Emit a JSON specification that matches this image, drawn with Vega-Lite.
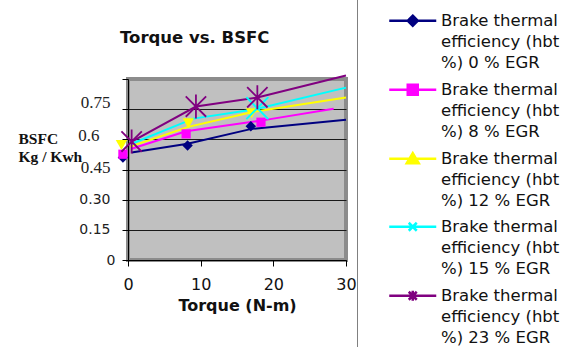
{
  "$schema": "https://vega.github.io/schema/vega-lite/v6.json",
  "autosize": {"type": "none"},
  "padding": {"left": 128, "top": 79, "right": 222, "bottom": 87},
  "width": 218,
  "height": 181,
  "background": "white",
  "title": {
    "text": "Torque vs. BSFC",
    "anchor": "start",
    "frame": "group",
    "dx": -8,
    "offset": -62,
    "baseline": "alphabetic",
    "font": "DejaVu Sans",
    "fontSize": 16.5,
    "fontWeight": "bold",
    "color": "#111"
  },
  "config": {
    "view": {"fill": "#c0c0c0", "stroke": "#8c8c8c", "strokeWidth": 4}
  },
  "datasets": {
    "lines": [
      {"series": "0 % EGR", "t": 0.5, "v": 0.535},
      {"series": "0 % EGR", "t": 8.2, "v": 0.578},
      {"series": "0 % EGR", "t": 17, "v": 0.652},
      {"series": "0 % EGR", "t": 30, "v": 0.697},
      {"series": "8 % EGR", "t": 0.5, "v": 0.553},
      {"series": "8 % EGR", "t": 8, "v": 0.64},
      {"series": "8 % EGR", "t": 18.3, "v": 0.693},
      {"series": "8 % EGR", "t": 28.3, "v": 0.752},
      {"series": "12 % EGR", "t": 0.3, "v": 0.564},
      {"series": "12 % EGR", "t": 8.3, "v": 0.662},
      {"series": "12 % EGR", "t": 17, "v": 0.735},
      {"series": "12 % EGR", "t": 30, "v": 0.808},
      {"series": "15 % EGR", "t": 0.5, "v": 0.578},
      {"series": "15 % EGR", "t": 9, "v": 0.703},
      {"series": "15 % EGR", "t": 17.5, "v": 0.75},
      {"series": "15 % EGR", "t": 30, "v": 0.857},
      {"series": "23 % EGR", "t": 0.5, "v": 0.589},
      {"series": "23 % EGR", "t": 9.35, "v": 0.763},
      {"series": "23 % EGR", "t": 17.8, "v": 0.808},
      {"series": "23 % EGR", "t": 30, "v": 0.917}
    ],
    "marks": [
      {"series": "0 % EGR", "t": -0.7, "v": 0.51},
      {"series": "0 % EGR", "t": 8.2, "v": 0.569},
      {"series": "0 % EGR", "t": 16.9, "v": 0.665},
      {"series": "8 % EGR", "t": -0.7, "v": 0.526},
      {"series": "8 % EGR", "t": 8, "v": 0.627},
      {"series": "8 % EGR", "t": 18.3, "v": 0.685},
      {"series": "12 % EGR", "t": -0.9, "v": 0.572},
      {"series": "12 % EGR", "t": 8.3, "v": 0.68},
      {"series": "12 % EGR", "t": 17, "v": 0.73},
      {"series": "15 % EGR", "t": 17.8, "v": 0.755},
      {"series": "23 % EGR", "t": 0.5, "v": 0.589},
      {"series": "23 % EGR", "t": 9.35, "v": 0.763},
      {"series": "23 % EGR", "t": 17.8, "v": 0.809}
    ]
  },
  "encoding": {
    "x": {
      "field": "t",
      "type": "quantitative",
      "scale": {"domain": [0, 30], "nice": false, "zero": false},
      "axis": {
        "values": [0, 10, 20, 30],
        "grid": false,
        "labelFlush": false,
        "labelOverlap": false,
        "domainColor": "#000",
        "tickColor": "#000",
        "tickSize": 6,
        "labelFont": "DejaVu Sans",
        "labelFontSize": 16,
        "labelColor": "#111",
        "labelPadding": 10,
        "title": "Torque (N-m)",
        "titleFont": "DejaVu Sans",
        "titleFontSize": 16,
        "titleFontWeight": "bold",
        "titleColor": "#111",
        "titleBaseline": "alphabetic",
        "titleY": 50
      }
    },
    "y": {
      "field": "v",
      "type": "quantitative",
      "scale": {"domain": [0, 0.9], "nice": false, "zero": false},
      "axis": {
        "values": [0, 0.15, 0.3, 0.45, 0.6, 0.75, 0.9],
        "labelExpr": "datum.value >= 0.89 ? '' : datum.value == 0 ? '0' : datum.value < 0.2 ? '0.15' : datum.value < 0.35 ? '0.30' : datum.value < 0.5 ? '0.45' : datum.value < 0.65 ? '0.6' : '0.75'",
        "labelFlush": false,
        "labelOverlap": false,
        "grid": true,
        "gridColor": {"condition": {"test": "datum.value >= 0.89", "value": "transparent"}, "value": "#1a1a1a"},
        "gridWidth": 1,
        "domainColor": "#000",
        "tickColor": "#000",
        "tickSize": 6,
        "labelAlign": "right",
        "labelColor": "#222",
        "labelFont": {"condition": {"test": "datum.value >= 0.44", "value": "Liberation Serif"}, "value": "DejaVu Sans"},
        "labelFontSize": {"condition": {"test": "datum.value >= 0.44", "value": 17}, "value": 14},
        "labelPadding": {"condition": [
          {"test": "datum.value == 0", "value": 7},
          {"test": "datum.value > 0.5 && datum.value < 0.65", "value": 23}
        ], "value": 12},
        "labelOffset": {"condition": [
          {"test": "datum.value > 0.7 && datum.value < 0.8", "value": -7},
          {"test": "datum.value > 0.5 && datum.value < 0.65", "value": -4},
          {"test": "datum.value > 0.4 && datum.value < 0.5", "value": -2}
        ], "value": 0},
        "title": ["BSFC", "Kg / Kwh"],
        "titleAngle": 0,
        "titleAlign": "left",
        "titleBaseline": "alphabetic",
        "titleX": -110,
        "titleY": 64,
        "titleFont": "Liberation Serif",
        "titleFontSize": 15.5,
        "titleFontWeight": "bold",
        "titleLineHeight": 18,
        "titleColor": "#111"
      }
    }
  },
  "layer": [
    {
      "data": {"name": "marks"},
      "mark": {"type": "point", "filled": true, "opacity": 0},
      "encoding": {
        "color": {
          "field": "series",
          "type": "nominal",
          "scale": {
            "domain": ["0 % EGR", "8 % EGR", "12 % EGR", "15 % EGR", "23 % EGR"],
            "range": ["#000080", "#ff00ff", "#ffff00", "#00ffff", "#800080"]
          },
          "legend": {
            "title": null,
            "orient": "none",
            "legendX": 229,
            "legendY": -81,
            "padding": 20,
            "strokeColor": "#808080",
            "labelExpr": "['Brake thermal', 'efficiency (hbt', '%) ' + datum.label]",
            "labelFont": "DejaVu Sans",
            "labelFontSize": 16.5,
            "labelColor": "#111",
            "labelBaseline": "alphabetic",
            "labelLimit": 300,
            "symbolSize": 100,
            "symbolStrokeWidth": 2.5,
            "symbolOpacity": 1,
            "symbolOffset": 27.5,
            "labelOffset": 20,
            "rowPadding": 7,
            "encoding": {"labels": {"lineHeight": {"value": 21}}}
          }
        },
        "stroke": {
          "field": "series",
          "type": "nominal",
          "scale": {
            "domain": ["0 % EGR", "8 % EGR", "12 % EGR", "15 % EGR", "23 % EGR"],
            "range": ["#000080", "#ff00ff", "#ffff00", "#00ffff", "#800080"]
          }
        },
        "shape": {
          "field": "series",
          "type": "nominal",
          "scale": {
            "domain": ["0 % EGR", "8 % EGR", "12 % EGR", "15 % EGR", "23 % EGR"],
            "range": [
              "M-4.7,-1.1H4.7M0,-2.1L1,-1.1L0,-0.1L-1,-1.1Z",
              "M-4.7,-1.1H4.7M-1,-2.1H1V-0.1H-1Z",
              "M-4.7,-1.1H4.7M0,-2.2L1.2,-0.2H-1.2Z",
              "M-4.7,-1.1H4.7M-0.8,-1.9L0.8,-0.3M-0.8,-0.3L0.8,-1.9",
              "M-4.7,-1.1H4.7M-0.8,-1.9L0.8,-0.3M-0.8,-0.3L0.8,-1.9M0,-2.1V-0.1"
            ]
          }
        }
      }
    },
    {
      "data": {"name": "lines"},
      "mark": {"type": "line", "strokeWidth": 2},
      "encoding": {
        "color": {
          "field": "series",
          "type": "nominal",
          "scale": {
            "domain": ["0 % EGR", "8 % EGR", "12 % EGR", "15 % EGR", "23 % EGR"],
            "range": ["#000080", "#ff00ff", "#ffff00", "#00ffff", "#800080"]
          }
        }
      }
    },
    {
      "data": {"name": "marks"},
      "transform": [{"filter": "datum.series === '0 % EGR'"}],
      "mark": {"type": "point", "shape": "diamond", "filled": true, "size": 110, "opacity": 1},
      "encoding": {"color": {"field": "series", "type": "nominal"}}
    },
    {
      "data": {"name": "marks"},
      "transform": [{"filter": "datum.series === '8 % EGR'"}],
      "mark": {"type": "point", "shape": "square", "filled": true, "size": 85, "opacity": 1},
      "encoding": {"color": {"field": "series", "type": "nominal"}}
    },
    {
      "data": {"name": "marks"},
      "transform": [{"filter": "datum.series === '12 % EGR'"}],
      "mark": {"type": "point", "shape": "triangle-down", "filled": true, "size": 130, "opacity": 1},
      "encoding": {"color": {"field": "series", "type": "nominal"}}
    },
    {
      "data": {"name": "marks"},
      "transform": [{"filter": "datum.series === '15 % EGR'"}],
      "mark": {"type": "point", "shape": "M-1,-1L1,1M-1,1L1,-1", "filled": false, "size": 484, "strokeWidth": 2, "opacity": 1},
      "encoding": {"color": {"field": "series", "type": "nominal"}}
    },
    {
      "data": {"name": "marks"},
      "transform": [{"filter": "datum.series === '23 % EGR'"}],
      "mark": {"type": "point", "shape": "M-0.85,-0.85L0.85,0.85M-0.85,0.85L0.85,-0.85M0,-1V1", "filled": false, "size": 576, "strokeWidth": 1.8, "opacity": 1},
      "encoding": {"color": {"field": "series", "type": "nominal"}}
    }
  ]
}
